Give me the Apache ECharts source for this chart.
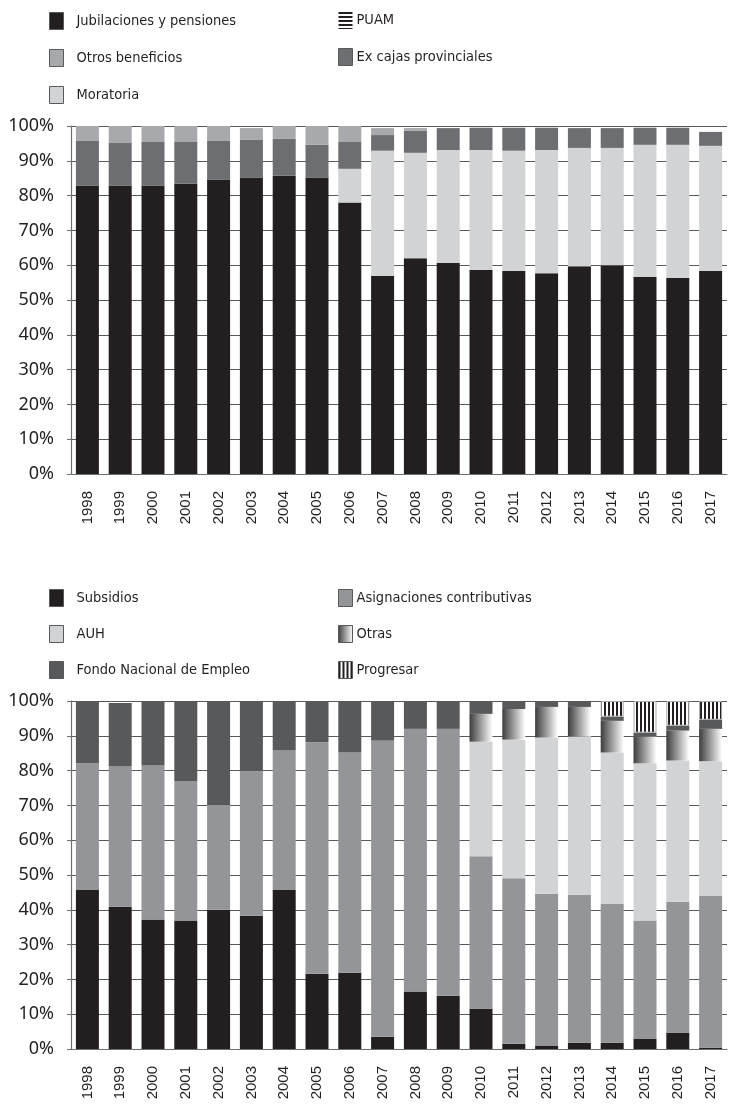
<!DOCTYPE html>
<html>
<head>
<meta charset="utf-8">
<script src="https://cdn.jsdelivr.net/npm/echarts@6/dist/echarts.min.js"></script>
<style>
	html, body { margin: 0; padding: 0; background: #fff; }
	#chart { width: 747px; height: 1105px; }
</style>
</head>
<body>
<div id="chart"></div>
<script>
'use strict';

// DATA
var years = ['1998', '1999', '2000', '2001', '2002', '2003', '2004', '2005', '2006', '2007',
	'2008', '2009', '2010', '2011', '2012', '2013', '2014', '2015', '2016', '2017'];
var yTicks = [0, 10, 20, 30, 40, 50, 60, 70, 80, 90, 100];

// top chart (%)
var jubilaciones = [82.9, 82.9, 82.9, 83.4, 84.6, 85.1, 85.7, 85.1, 78.0, 56.9, 62.0, 60.6, 58.6, 58.3, 57.7, 59.7, 60.0, 56.6, 56.3, 58.3];
var moratoria = [0, 0, 0, 0, 0, 0, 0, 0, 9.7, 36.0, 30.3, 32.5, 34.5, 34.6, 35.4, 34.0, 33.7, 38.0, 38.3, 36.0];
var exCajas = [12.8, 12.2, 12.5, 12.0, 11.1, 10.9, 10.6, 9.5, 7.7, 4.5, 6.4, 6.3, 6.4, 6.6, 6.4, 5.7, 5.7, 4.9, 4.9, 4.0];
var otrosBeneficios = [4.3, 4.9, 4.6, 4.6, 4.3, 3.4, 3.7, 5.4, 4.6, 2.0, 0.7, 0, 0, 0, 0, 0, 0, 0, 0, 0];
var puam = [0, 0, 0, 0, 0, 0, 0, 0, 0, 0, 0, 0, 0, 0, 0, 0, 0, 0, 0, 0];

// bottom chart (%)
var subsidios = [45.7, 40.9, 37.2, 36.9, 40.0, 38.3, 45.7, 21.6, 21.9, 3.5, 16.5, 15.3, 11.6, 1.5, 1.0, 1.8, 1.8, 3.0, 4.7, 0.4];
var asignaciones = [36.4, 40.3, 44.3, 40.1, 30.1, 41.5, 40.1, 66.5, 63.3, 85.1, 75.5, 76.7, 43.8, 47.6, 43.6, 42.5, 39.9, 33.9, 37.6, 43.6];
var auh = [0, 0, 0, 0, 0, 0, 0, 0, 0, 0, 0, 0, 32.9, 39.8, 44.9, 45.5, 43.5, 45.2, 40.6, 38.7];
var otras = [0, 0, 0, 0, 0, 0, 0, 0, 0, 0, 0, 0, 8.0, 8.8, 8.8, 8.5, 9.1, 7.7, 8.6, 9.3];
var fondoEmpleo = [17.9, 18.2, 18.5, 23.0, 29.9, 20.2, 14.0, 11.9, 14.8, 11.4, 8.0, 8.0, 3.7, 2.3, 1.7, 1.7, 1.2, 1.1, 1.4, 2.6];
var progresar = [null, null, null, null, null, null, null, null, null, null, null, null, null, null, null, null, 4.5, 9.1, 7.1, 5.4];

// PATTERNS
function stripes(vertical) {
	var c = document.createElement('canvas');
	c.width = 4;
	c.height = 4;
	var ctx = c.getContext('2d');
	ctx.fillStyle = '#ffffff';
	ctx.fillRect(0, 0, 4, 4);
	ctx.fillStyle = '#231f20';
	if (vertical) ctx.fillRect(0, 0, 2, 4);
	else ctx.fillRect(0, 0, 4, 2);
	return { image: c, repeat: 'repeat' };
}
var puamFill = stripes(false);
var progresarFill = stripes(true);
var otrasFill = new echarts.graphic.LinearGradient(0, 0, 1, 0, [
	{ offset: 0, color: '#3d3d3f' },
	{ offset: 1, color: '#ffffff' }
]);

var labelFont = 'DejaVu Sans Condensed, Liberation Sans, Arial, sans-serif';
var textColor = '#231f20';
var lineColor = '#6d6e71';

function xAxis(gridIndex) {
	return {
		type: 'category',
		gridIndex: gridIndex,
		data: years,
		axisLine: { lineStyle: { color: lineColor, width: 1.2 } },
		axisTick: { length: 10, lineStyle: { color: lineColor } },
		axisLabel: {
			interval: 0,
			rotate: 90,
			margin: 17,
			fontSize: 15,
			fontFamily: 'Liberation Sans, Arial, sans-serif',
			color: textColor
		}
	};
}

function yAxis(gridIndex) {
	return {
		type: 'value',
		gridIndex: gridIndex,
		min: yTicks[0],
		max: yTicks[yTicks.length - 1],
		interval: yTicks[1] - yTicks[0],
		axisLine: { show: true, lineStyle: { color: lineColor, width: 1.2 } },
		axisTick: { show: true, length: 4, lineStyle: { color: lineColor } },
		splitLine: { lineStyle: { color: '#58595b', width: 1 } },
		axisLabel: {
			margin: 17,
			fontSize: 18,
			fontFamily: 'Noto Sans, Open Sans, sans-serif',
			color: textColor,
			formatter: '{value}%'
		}
	};
}

function bar(name, data, idx, color, extra) {
	var s = {
		name: name,
		type: 'bar',
		stack: 'total' + idx,
		xAxisIndex: idx,
		yAxisIndex: idx,
		barWidth: 23,
		data: data,
		itemStyle: { color: color }
	};
	if (extra) s.itemStyle = Object.assign(s.itemStyle, extra);
	return s;
}

function legend(left, top, items, gap) {
	return {
		orient: 'vertical',
		left: left,
		top: top,
		padding: 0,
		icon: 'rect',
		itemWidth: 14,
		itemHeight: 17,
		itemGap: gap,
		selectedMode: false,
		itemStyle: { borderColor: '#58595b', borderWidth: 1 },
		textStyle: { fontSize: 14.5, fontFamily: labelFont, color: textColor },
		data: items
	};
}

var chart = echarts.init(document.getElementById('chart'));
var option = {
	animation: false,
	backgroundColor: '#ffffff',
	grid: [
		{ left: 71, right: 20, top: 126, height: 348 },
		{ left: 71, right: 20, top: 701, height: 348 }
	],
	legend: [
		legend(49, 12, [
			{ name: 'Jubilaciones y pensiones', textStyle: { padding: [0, 0, 0, 8] } },
			{ name: 'Otros beneficios', textStyle: { padding: [0, 0, 0, 8] } },
			{ name: 'Moratoria', textStyle: { padding: [0, 0, 0, 8] } }
		], 19),
		legend(338, 12, [
			{ name: 'PUAM', itemStyle: { borderWidth: 0 }, textStyle: { padding: [0, 0, 0, -1] } },
			{ name: 'Ex cajas provinciales', textStyle: { padding: [0, 0, 0, -1] } }
		], 19),
		legend(49, 589, [
			{ name: 'Subsidios', textStyle: { padding: [0, 0, 0, 8] } },
			{ name: 'AUH', textStyle: { padding: [0, 0, 0, 8] } },
			{ name: 'Fondo Nacional de Empleo', textStyle: { padding: [0, 0, 0, 8] } }
		], 18),
		legend(338, 589, [
			{ name: 'Asignaciones contributivas', textStyle: { padding: [0, 0, 0, -1] } },
			{ name: 'Otras', textStyle: { padding: [0, 0, 0, -1] } },
			{ name: 'Progresar', textStyle: { padding: [0, 0, 0, -1] } }
		], 18)
	],
	xAxis: [xAxis(0), xAxis(1)],
	yAxis: [yAxis(0), yAxis(1)],
	series: [
		// TOP CHART
		bar('Jubilaciones y pensiones', jubilaciones, 0, '#231f20'),
		bar('Moratoria', moratoria, 0, '#d1d3d4'),
		bar('Ex cajas provinciales', exCajas, 0, '#6d6e71'),
		bar('Otros beneficios', otrosBeneficios, 0, '#a7a9ac'),
		bar('PUAM', puam, 0, puamFill),
		// BOTTOM CHART
		bar('Subsidios', subsidios, 1, '#231f20'),
		bar('Asignaciones contributivas', asignaciones, 1, '#939598'),
		bar('AUH', auh, 1, '#d1d3d4'),
		bar('Otras', otras, 1, otrasFill),
		bar('Fondo Nacional de Empleo', fondoEmpleo, 1, '#58595b'),
		bar('Progresar', progresar, 1, progresarFill, { borderColor: '#a7a9ac', borderWidth: 1 })
	]
};
chart.setOption(option);
</script>
</body>
</html>
